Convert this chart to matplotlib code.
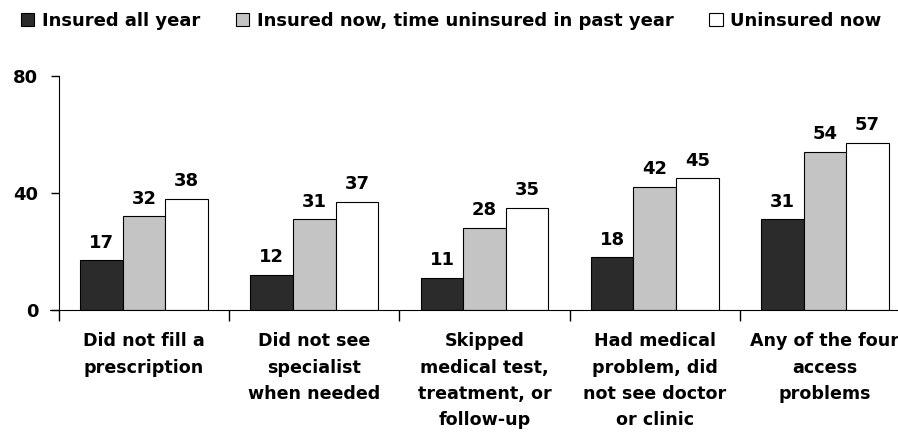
import numpy as np
import matplotlib.pyplot as plt

# data
categories = ["Did not fill a\nprescription",
              "Did not see\nspecialist\nwhen needed",
              "Skipped\nmedical test,\ntreatment, or\nfollow-up",
              "Had medical\nproblem, did\nnot see doctor\nor clinic",
              "Any of the four\naccess\nproblems"]
series_names = ["Insured all year",
                "Insured now, time uninsured in past year",
                "Uninsured now"]
insured_all_year = [17, 12, 11, 18, 31]
insured_now_gap = [32, 31, 28, 42, 54]
uninsured_now = [38, 37, 35, 45, 57]
y_ticks = [0, 40, 80]

dark = '#2b2b2b'
grey = '#c4c4c4'
white = '#ffffff'

plt.rcParams['font.family'] = ['DejaVu Sans']
plt.rcParams['font.weight'] = 'bold'

fig = plt.figure(figsize=(8.98, 4.42), dpi=100)
ax = fig.add_axes([59 / 898, 132 / 442, 851 / 898, 234 / 442])

x = np.arange(len(categories))
w = 0.25
series = [insured_all_year, insured_now_gap, uninsured_now]
colors = [dark, grey, white]
for i, (vals, col, name) in enumerate(zip(series, colors, series_names)):
    bars = ax.bar(x + (i - 1) * w, vals, width=w, color=col, edgecolor='black',
                  linewidth=0.8, label=name)
    for b, v in zip(bars, vals):
        ax.text(b.get_x() + b.get_width() / 2, v + 3.0, str(v), ha='center',
                va='bottom', fontsize=13, fontweight='bold')

ax.set_xlim(-0.5, len(categories) - 0.5)
ax.set_ylim(0, 80)
ax.set_yticks(y_ticks)
ax.tick_params(axis='y', length=6, width=1, pad=9, labelsize=13)

# ticks on the boundaries, labels in between
ax.set_xticks(np.arange(len(categories) + 1) - 0.5)
ax.set_xticklabels([])
ax.tick_params(axis='x', which='major', length=8, width=1, direction='out')
ax.set_xticks(x, minor=True)
ax.set_xticklabels(categories, minor=True, fontsize=12.6, fontweight='bold',
                   linespacing=1.6, va='top')
ax.tick_params(axis='x', which='minor', length=0, pad=16)

for s in ['top', 'right']:
    ax.spines[s].set_visible(False)
ax.spines['bottom'].set_bounds(-0.55, len(categories) - 0.5)

fig.legend(loc='upper left', bbox_to_anchor=(0.005, 1.01), ncol=3,
           frameon=False, handlelength=0.75, handleheight=0.75,
           handletextpad=0.4, columnspacing=2.0,
           prop={'size': 13, 'weight': 'bold'})

fig.savefig('out.png', dpi=100)
